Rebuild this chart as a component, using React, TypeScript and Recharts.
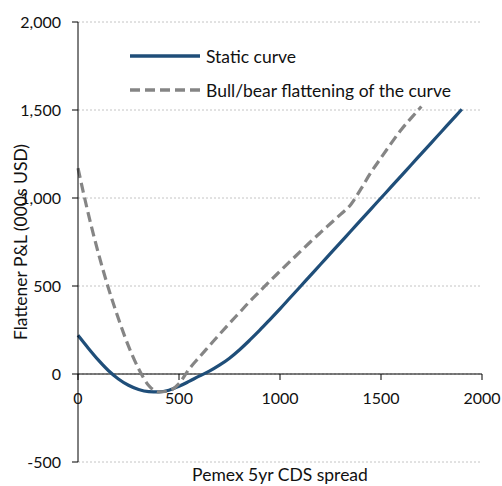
import { LineChart, Line, XAxis, YAxis, CartesianGrid, ReferenceLine, Legend } from "recharts";

// Pemex 5yr CDS spread (bp)
const spread = [
  0, 50, 100, 150, 200, 250, 300, 350, 400, 450, 500, 550, 600, 650, 700, 750, 800, 850, 900, 950,
  1000, 1050, 1100, 1150, 1200, 1250, 1300, 1350, 1400, 1450, 1500, 1550, 1600, 1650, 1700, 1750,
  1800, 1850, 1900,
];

// Flattener P&L (000s USD)
const staticCurve = [
  220, 148, 80, 20, -28, -64, -88, -100, -102, -92, -70, -42, -12, 16, 50, 90, 138, 192, 249, 309,
  370, 433, 496, 559, 622, 685, 748, 811, 874, 937, 1000, 1063, 1126, 1189, 1252, 1315, 1378, 1441,
  1504,
];

const bullBear: (number | null)[] = [
  1170, 915, 690, 490, 315, 158, 30, -65, -102, -96, -55, 28, 95, 160, 225, 288, 350, 412, 470, 528,
  584, 640, 695, 750, 803, 855, 907, 962, 1050, 1145, 1228, 1310, 1388, 1455, 1520, null, null, null,
  null,
];

const xTicks = [0, 500, 1000, 1500, 2000];
const yTicks = [-500, 0, 500, 1000, 1500, 2000];

const Y_MIN = -500;
const Y_MAX = 2000;

const FONT = "Lato, 'Noto Sans', sans-serif";
const TICK_SIZE = 16;
const LABEL_SIZE = 17.5;
const BLUE = "#1f4e79";
const GREY = "#858585";

const W = 502;
const H = 486;
const X_AXIS_H = 24;
const MARGIN = { top: 22, right: 20, bottom: 0, left: 0 };
const PLOT_H = H - MARGIN.top - MARGIN.bottom - X_AXIS_H;
// x axis sits on the zero line, not at the bottom of the plot
const ZERO_Y = MARGIN.top + (PLOT_H * Y_MAX) / (Y_MAX - Y_MIN);

const data = spread.map((s, i) => ({
  spread: s,
  static: staticCurve[i],
  bullBear: bullBear[i],
}));

const SERIES = [
  { key: "static", name: "Static curve", color: BLUE, dash: undefined },
  { key: "bullBear", name: "Bull/bear flattening of the curve", color: GREY, dash: "10 5" },
];

const XTick = ({ x, payload }: any) => (
  <g>
    <line x1={x} x2={x} y1={ZERO_Y} y2={ZERO_Y + 6} stroke="#000" />
    <text x={x} y={ZERO_Y + 30} textAnchor="middle" fontSize={TICK_SIZE} fontFamily={FONT} fill="#111">
      {payload.value}
    </text>
  </g>
);

const YLabel = ({ viewBox }: any) => {
  const cx = 20;
  const cy = viewBox.y + viewBox.height / 2;
  return (
    <text
      x={cx}
      y={cy}
      transform={`rotate(-90, ${cx}, ${cy})`}
      textAnchor="middle"
      dominantBaseline="central"
      fontSize={LABEL_SIZE}
      fontFamily={FONT}
      fill="#111"
    >
      Flattener P&amp;L (000s USD)
    </text>
  );
};

const XLabel = ({ viewBox }: any) => (
  <text
    x={viewBox.x + viewBox.width / 2}
    y={viewBox.y + viewBox.height - 5}
    textAnchor="middle"
    fontSize={LABEL_SIZE}
    fontFamily={FONT}
    fill="#111"
  >
    Pemex 5yr CDS spread
  </text>
);

const CustomLegend = () => (
  <div style={{ fontFamily: FONT, fontSize: LABEL_SIZE, color: "#111" }}>
    {SERIES.map((s) => (
      <div key={s.key} style={{ display: "flex", alignItems: "center", height: 24, marginBottom: 10 }}>
        <svg width={76} height={10} style={{ display: "block" }}>
          <line
            x1={0}
            x2={70}
            y1={5}
            y2={5}
            stroke={s.color}
            strokeWidth={3.5}
            strokeDasharray={s.dash}
          />
        </svg>
        <span style={{ whiteSpace: "nowrap" }}>{s.name}</span>
      </div>
    ))}
  </div>
);

export default function App() {
  return (
    <div style={{ position: "absolute", left: 0, top: 0, width: W, height: H, background: "#fff" }}>
      <LineChart width={W} height={H} data={data} margin={MARGIN}>
        <CartesianGrid vertical={false} stroke="#c4c4c4" strokeDasharray="2 2" />
        <XAxis
          dataKey="spread"
          type="number"
          domain={[0, 2000]}
          ticks={xTicks}
          axisLine={false}
          tickLine={false}
          height={X_AXIS_H}
          tick={<XTick />}
          label={<XLabel />}
        />
        <YAxis
          type="number"
          domain={[Y_MIN, Y_MAX]}
          ticks={yTicks}
          width={78}
          tickSize={6}
          tickMargin={11}
          axisLine={{ stroke: "#000" }}
          tickLine={{ stroke: "#000" }}
          tick={{ fontSize: TICK_SIZE, fontFamily: FONT, fill: "#111" }}
          tickFormatter={(v: number) => v.toLocaleString("en-US")}
          label={<YLabel />}
        />
        <ReferenceLine y={0} stroke="#000" />
        <Legend
          layout="vertical"
          align="center"
          verticalAlign="middle"
          content={<CustomLegend />}
          wrapperStyle={{ top: 44, left: 130, width: 360 }}
        />
        {SERIES.map((s) => (
          <Line
            key={s.key}
            dataKey={s.key}
            name={s.name}
            type="monotone"
            stroke={s.color}
            strokeWidth={3.2}
            strokeDasharray={s.dash}
            dot={false}
            activeDot={false}
            connectNulls={false}
            isAnimationActive={false}
          />
        ))}
      </LineChart>
    </div>
  );
}
